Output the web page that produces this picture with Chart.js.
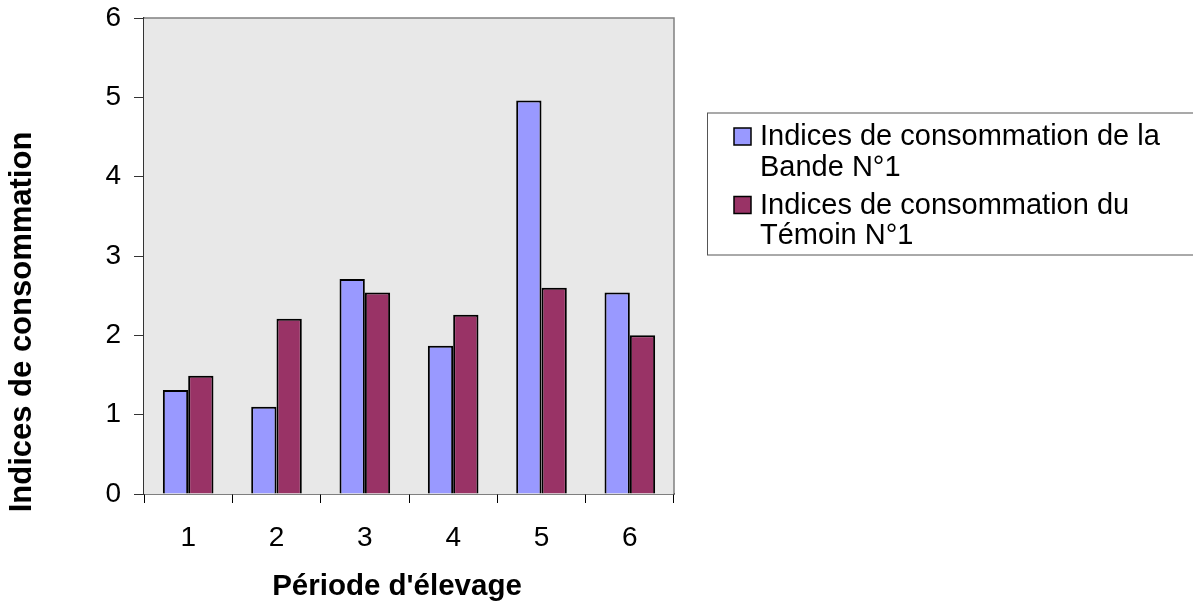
<!DOCTYPE html>
<html>
<head>
<meta charset="utf-8">
<script src="https://cdn.jsdelivr.net/npm/chart.js@4"></script>
<style>
  html, body { margin: 0; padding: 0; background: #ffffff; }
  #wrap { width: 1193px; height: 608px; }
</style>
</head>
<body>
<div id="wrap"><canvas id="chart" width="1193" height="608"></canvas></div>
<script>
const periods = ['1', '2', '3', '4', '5', '6'];
const bandeValues = [1.31, 1.10, 2.71, 1.87, 4.96, 2.54];
const temoinValues = [1.49, 2.21, 2.54, 2.26, 2.60, 2.00];
const seriesLabels = ['Indices de consommation de la Bande N°1', 'Indices de consommation du Témoin N°1'];
const yTitle = 'Indices de consommation';
const xTitle = "Période d'élevage";

const FONT = '"Liberation Sans", Arial, Helvetica, sans-serif';

// Grey plot background with thin frame on top and right
const plotFrame = {
  id: 'plotFrame',
  beforeDatasetsDraw(chart) {
    const { ctx, chartArea: a } = chart;
    ctx.save();
    ctx.fillStyle = '#e8e8e8';
    ctx.fillRect(a.left, a.top, a.right - a.left, a.bottom - a.top);
    ctx.strokeStyle = '#808080';
    ctx.lineWidth = 1.5;
    ctx.beginPath();
    ctx.moveTo(a.left, a.top);
    ctx.lineTo(a.right, a.top);
    ctx.lineTo(a.right, a.bottom);
    ctx.stroke();
    ctx.restore();
  }
};

// Axis titles placed like a spreadsheet chart
const axisTitles = {
  id: 'axisTitles',
  afterDraw(chart) {
    const { ctx } = chart;
    ctx.save();
    ctx.fillStyle = '#000';
    ctx.textAlign = 'center';
    ctx.textBaseline = 'middle';
    ctx.font = 'bold 29.5px ' + FONT;
    ctx.fillText(xTitle, 397, 587);
    ctx.font = 'bold 31px ' + FONT;
    ctx.translate(22, 322);
    ctx.rotate(-Math.PI / 2);
    ctx.fillText(yTitle, 0, 0);
    ctx.restore();
  }
};

// Boxed legend with wrapped labels on the right
const boxLegend = {
  id: 'boxLegend',
  afterDraw(chart) {
    const { ctx } = chart;
    const box = { x: 707.5, y: 113, w: 486, h: 142 };
    const textX = 760, maxW = 420, lineH = 30.5, gap = 7.5;
    ctx.save();
    ctx.strokeStyle = '#555';
    ctx.lineWidth = 1;
    ctx.strokeRect(box.x, box.y, box.w, box.h);
    ctx.font = '29px ' + FONT;
    ctx.textAlign = 'left';
    ctx.textBaseline = 'alphabetic';
    let y = 145;
    chart.data.datasets.forEach((ds) => {
      const words = ds.label.split(' ');
      const lines = [];
      let cur = '';
      words.forEach((w) => {
        const t = cur ? cur + ' ' + w : w;
        if (ctx.measureText(t).width > maxW && cur) { lines.push(cur); cur = w; }
        else cur = t;
      });
      if (cur) lines.push(cur);
      ctx.fillStyle = ds.backgroundColor;
      ctx.fillRect(734, y - 17, 17, 17);
      ctx.strokeStyle = '#000';
      ctx.lineWidth = 1.5;
      ctx.strokeRect(734, y - 17, 17, 17);
      ctx.fillStyle = '#000';
      lines.forEach((ln, i) => ctx.fillText(ln, textX, y + i * lineH));
      y += lines.length * lineH + gap;
    });
    ctx.restore();
  }
};

new Chart(document.getElementById('chart'), {
  type: 'bar',
  data: {
    labels: periods,
    datasets: [
      { label: seriesLabels[0], data: bandeValues, backgroundColor: '#9999ff', borderColor: '#000', borderWidth: 2 },
      { label: seriesLabels[1], data: temoinValues, backgroundColor: '#993366', borderColor: '#000', borderWidth: 2 }
    ]
  },
  options: {
    responsive: false,
    animation: false,
    devicePixelRatio: 1,
    layout: { padding: { left: 0, top: 18, right: 519, bottom: 0 } },
    datasets: { bar: { categoryPercentage: 0.573, barPercentage: 1.0 } },
    plugins: { legend: { display: false }, tooltip: { enabled: false } },
    scales: {
      x: {
        afterFit(s) { s.height = 114; },
        grid: { offset: true, drawOnChartArea: false, drawTicks: true, tickLength: 9, color: '#000', lineWidth: 1 },
        border: { color: '#000', width: 1.5 },
        ticks: { color: '#000', font: { family: FONT, size: 28 }, padding: 18 }
      },
      y: {
        min: 0, max: 6,
        afterFit(s) { s.width = 144; s.paddingTop = 0; s.paddingBottom = 0; },
        grid: { drawOnChartArea: false, drawTicks: true, tickLength: 10, color: '#333', lineWidth: 1 },
        border: { color: '#333', width: 1.5 },
        ticks: { stepSize: 1, color: '#000', font: { family: FONT, size: 28, lineHeight: 0.6 }, padding: 13 }
      }
    }
  },
  plugins: [plotFrame, axisTitles, boxLegend]
});
</script>
</body>
</html>
